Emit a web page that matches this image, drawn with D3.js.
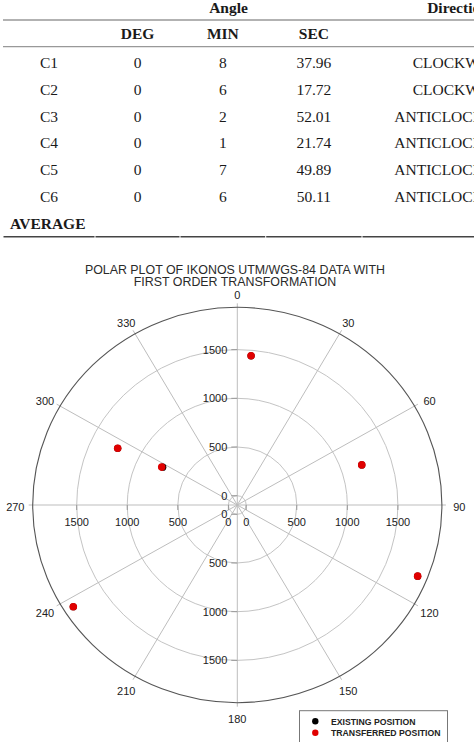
<!DOCTYPE html>
<html>
<head>
<meta charset="utf-8">
<script src="https://cdn.jsdelivr.net/npm/d3@7"></script>
<style>
    body { margin: 0; background: #fff; }
    svg { display: block; }
</style>
</head>
<body>
<div id="chart-area"></div>
<script>
// Table data
const rowLabels = ["C1", "C2", "C3", "C4", "C5", "C6"];
const degValues = ["0", "0", "0", "0", "0", "0"];
const minValues = ["8", "6", "2", "1", "7", "6"];
const secValues = ["37.96", "17.72", "52.01", "21.74", "49.89", "50.11"];
const directions = ["CLOCKWISE", "CLOCKWISE", "ANTICLOCKWISE", "ANTICLOCKWISE", "ANTICLOCKWISE", "ANTICLOCKWISE"];

// Polar data
const titleLines = ["POLAR PLOT OF IKONOS UTM/WGS-84 DATA WITH", "FIRST ORDER TRANSFORMATION"];
const angleTicks = [0, 30, 60, 90, 120, 150, 180, 210, 240, 270, 300, 330];
const radialTicks = [0, 500, 1000, 1500];
const transferredTheta = [5.1, 71.6, 296.1, 297.3, 237.3, 112.2];
const transferredR = [1443, 1209, 1229, 753, 1839, 1838];
const existingTheta = [5.1, 71.6, 296.1, 297.6, 237.3, 112.2];
const existingR = [1443, 1209, 1229, 744, 1839, 1838];
const legendLabels = ["EXISTING POSITION", "TRANSFERRED POSITION"];
const legendColors = ["#000", "#e00000"];

const W = 474;
const H = 742;

const svg = d3
    .select("#chart-area")
    .append("svg")
    .attr("width", W)
    .attr("height", H);

// ---------- Table ----------
const colEdges = [3, 95, 180, 265.7, 362, 554];
const colMid = (i) => (colEdges[i] + colEdges[i + 1]) / 2;
const rowY = d3.scaleLinear().domain([0, 6]).range([63.3, 223.5]);

const table = svg
    .append("g")
    .attr("font-family", "'Liberation Serif', 'Times New Roman', serif")
    .attr("font-size", "15.5px")
    .attr("fill", "#1a1a1a");

const headText = (txt, x, y) =>
    table
        .append("text")
        .attr("x", x)
        .attr("y", y + 5)
        .attr("text-anchor", "middle")
        .attr("font-weight", "bold")
        .text(txt);

headText("Angle", (colEdges[1] + colEdges[4]) / 2, 7.5);
headText("Direction", colMid(4), 7.5);
headText("DEG", colMid(1), 34.3);
headText("MIN", colMid(2), 34.3);
headText("SEC", colMid(3), 34.3);

const cols = [rowLabels, degValues, minValues, secValues, directions];
cols.forEach((col, ci) => {
    table
        .selectAll(null)
        .data(col)
        .enter()
        .append("text")
        .attr("x", colMid(ci))
        .attr("y", (d, i) => rowY(i) + 5)
        .attr("text-anchor", "middle")
        .text((d) => d);
});

table
    .append("text")
    .attr("x", 10)
    .attr("y", rowY(6) + 5)
    .attr("font-weight", "bold")
    .text("AVERAGE");

// rules
table
    .append("line")
    .attr("x1", 3).attr("x2", W)
    .attr("y1", 20).attr("y2", 20)
    .attr("stroke", "#666").attr("stroke-width", 1.2);
table
    .append("line")
    .attr("x1", 3).attr("x2", W)
    .attr("y1", 46.7).attr("y2", 46.7)
    .attr("stroke", "#999").attr("stroke-width", 1.2);
colEdges.slice(0, -1).forEach((x0, i) => {
    table
        .append("line")
        .attr("x1", x0 + 0.5).attr("x2", colEdges[i + 1] - 0.5)
        .attr("y1", 236.7).attr("y2", 236.7)
        .attr("stroke", "#444").attr("stroke-width", 1.4);
});

// ---------- Polar plot ----------
const cx = 237.3;
const cy = 505;
const rMax = 1935;
const rxScale = d3.scaleLinear().domain([0, rMax]).range([8.9, 204.6]);
const ryScale = d3.scaleLinear().domain([0, rMax]).range([9.3, 197.7]);
const rad = (deg) => (deg * Math.PI) / 180;
const px = (theta, r) => cx + rxScale(r) * Math.sin(rad(theta));
const py = (theta, r) => cy - ryScale(r) * Math.cos(rad(theta));

const polar = svg
    .append("g")
    .attr("font-family", "'Liberation Sans', Arial, sans-serif")
    .attr("fill", "#222");

// title
polar
    .selectAll(".title")
    .data(titleLines)
    .enter()
    .append("text")
    .attr("class", "title")
    .attr("x", 235)
    .attr("y", (d, i) => 273.6 + i * 12.7)
    .attr("text-anchor", "middle")
    .attr("font-size", "12.4px")
    .attr("fill", "#2a2a2a")
    .text((d) => d);

// range rings
polar
    .selectAll(".ring")
    .data(radialTicks)
    .enter()
    .append("ellipse")
    .attr("class", "ring")
    .attr("cx", cx)
    .attr("cy", cy)
    .attr("rx", (d) => rxScale(d))
    .attr("ry", (d) => ryScale(d))
    .attr("fill", "none")
    .attr("stroke", "#c4c4c4")
    .attr("stroke-width", 1);

// spokes (with short outer tick)
polar
    .selectAll(".spoke")
    .data(angleTicks)
    .enter()
    .append("line")
    .attr("class", "spoke")
    .attr("x1", cx)
    .attr("y1", cy)
    .attr("x2", (d) => cx + (rxScale(rMax) + 4) * Math.sin(rad(d)))
    .attr("y2", (d) => cy - (ryScale(rMax) + 4) * Math.cos(rad(d)))
    .attr("stroke", "#bdbdbd")
    .attr("stroke-width", 1);

// outer boundary
polar
    .append("ellipse")
    .attr("cx", cx)
    .attr("cy", cy)
    .attr("rx", rxScale(rMax))
    .attr("ry", ryScale(rMax))
    .attr("fill", "none")
    .attr("stroke", "#555")
    .attr("stroke-width", 1.1);

// radial axis: vertical (labels left of axis)
[-1, 1].forEach((s) => {
    polar
        .selectAll(null)
        .data(radialTicks)
        .enter()
        .append("line")
        .attr("x1", cx - 6)
        .attr("x2", cx)
        .attr("y1", (d) => cy + s * ryScale(d))
        .attr("y2", (d) => cy + s * ryScale(d))
        .attr("stroke", "#999");
    polar
        .selectAll(null)
        .data(radialTicks)
        .enter()
        .append("text")
        .attr("x", cx - 10)
        .attr("y", (d) => cy + s * ryScale(d) + 4)
        .attr("text-anchor", "end")
        .attr("font-size", "11px")
        .text((d) => d);

    // horizontal (labels below axis)
    polar
        .selectAll(null)
        .data(radialTicks)
        .enter()
        .append("line")
        .attr("x1", (d) => cx + s * rxScale(d))
        .attr("x2", (d) => cx + s * rxScale(d))
        .attr("y1", cy)
        .attr("y2", cy + 5)
        .attr("stroke", "#999");
    polar
        .selectAll(null)
        .data(radialTicks)
        .enter()
        .append("text")
        .attr("x", (d) => cx + s * rxScale(d))
        .attr("y", cy + 21)
        .attr("text-anchor", "middle")
        .attr("font-size", "11px")
        .text((d) => d);
});

// angle labels
polar
    .selectAll(".angle-label")
    .data(angleTicks)
    .enter()
    .append("text")
    .attr("class", "angle-label")
    .attr("x", (d) => cx + rxScale(rMax) * 1.085 * Math.sin(rad(d)))
    .attr("y", (d) => cy - ryScale(rMax) * 1.072 * Math.cos(rad(d)) + 2 + 4)
    .attr("text-anchor", "middle")
    .attr("font-size", "11px")
    .text((d) => d);

// points
const existing = existingTheta.map((t, i) => ({ theta: t, r: existingR[i] }));
const transferred = transferredTheta.map((t, i) => ({ theta: t, r: transferredR[i] }));

polar
    .selectAll(".existing")
    .data(existing)
    .enter()
    .append("circle")
    .attr("class", "existing")
    .attr("cx", (d) => px(d.theta, d.r))
    .attr("cy", (d) => py(d.theta, d.r))
    .attr("r", 3.6)
    .attr("fill", legendColors[0]);

polar
    .selectAll(".transferred")
    .data(transferred)
    .enter()
    .append("circle")
    .attr("class", "transferred")
    .attr("cx", (d) => px(d.theta, d.r))
    .attr("cy", (d) => py(d.theta, d.r))
    .attr("r", 3.8)
    .attr("fill", legendColors[1]);

// legend
const legend = polar.append("g").attr("transform", "translate(299.5, 710.7)");
legend
    .append("rect")
    .attr("width", 148)
    .attr("height", 40)
    .attr("fill", "#fff")
    .attr("stroke", "#777")
    .attr("stroke-width", 1);

legendLabels.forEach((label, i) => {
    const row = legend.append("g").attr("transform", `translate(0, ${10.6 + i * 11.4})`);
    row.append("circle")
        .attr("cx", 15.8)
        .attr("cy", 0)
        .attr("r", 3.2)
        .attr("fill", legendColors[i]);
    row.append("text")
        .attr("x", 31.5)
        .attr("y", 3.2)
        .attr("font-size", "8.7px")
        .attr("font-weight", "bold")
        .attr("fill", "#222")
        .text(label);
});
</script>
</body>
</html>
